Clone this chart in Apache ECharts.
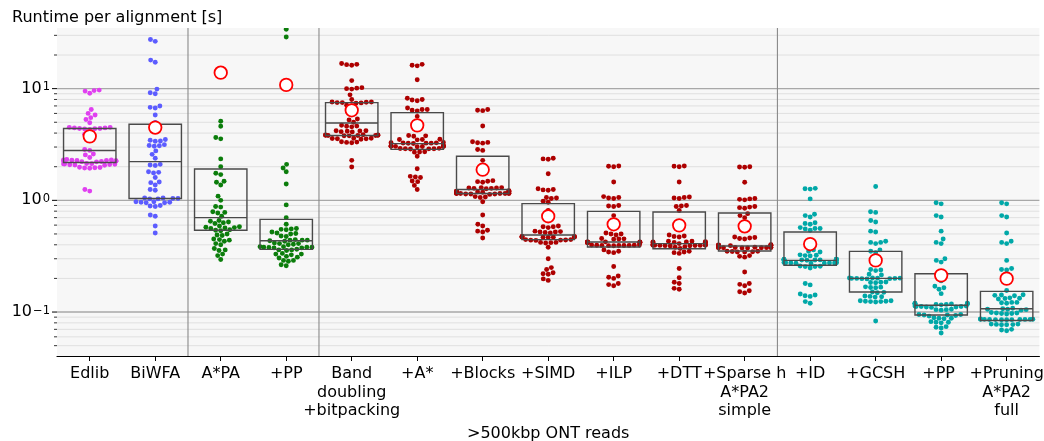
<!DOCTYPE html>
<html>
<head>
<meta charset="utf-8">
<script src="https://cdn.jsdelivr.net/npm/echarts@6/dist/echarts.min.js"></script>
<style>html,body{margin:0;padding:0;background:#fff}#c{width:1044px;height:441px}</style>
</head>
<body>
<div id="c"></div>
<script>
const categories = ['Edlib', 'BiWFA', 'A*PA', '+PP', 'Band\ndoubling\n+bitpacking', '+A*', '+Blocks', '+SIMD', '+ILP', '+DTT', '+Sparse h\nA*PA2\nsimple', '+ID', '+GCSH', '+PP ', '+Pruning\nA*PA2\nfull'];

const edlib = [9.7, 9.6, 9.5, 9.1, 6.5, 6.0, 5.8, 5.5, 5.3, 4.95, 4.5, 4.45, 4.4, 4.4, 4.35, 4.45, 4.3, 4.5, 4.38, 3.9, 3.85, 2.85, 2.8, 2.6, 2.55, 2.42, 2.3, 2.28, 2.26, 2.25, 2.24, 2.27, 2.23, 2.3, 2.22, 2.29, 2.25, 2.21, 2.32, 2.12, 2.1, 2.08, 2.13, 2.11, 2.07, 2.09, 2.14, 2.06, 1.97, 1.95, 1.98, 1.94, 1.96, 1.25, 1.21];
const biwfa = [27.5, 26.5, 18, 17.2, 9.9, 9.2, 9.0, 7.0, 6.8, 6.7, 5.8, 4.97, 3.5, 3.45, 3.4, 3.38, 3.15, 3.1, 3.05, 3.08, 2.77, 2.58, 2.38, 2.1, 2.07, 2.05, 1.8, 1.78, 1.76, 1.6, 1.46, 1.44, 1.37, 1.25, 1.23, 1.05, 1.04, 1.04, 1.03, 1.05, 1.03, 0.97, 0.96, 0.95, 0.96, 0.97, 0.95, 0.9, 0.89, 0.88, 0.74, 0.72, 0.59, 0.51];
const astarpa = [5.1, 4.6, 3.65, 3.55, 2.35, 2.0, 1.75, 1.7, 1.48, 1.45, 1.37, 1.09, 1.0, 0.88, 0.87, 0.79, 0.78, 0.77, 0.72, 0.66, 0.65, 0.64, 0.63, 0.62, 0.59, 0.58, 0.57, 0.575, 0.56, 0.565, 0.54, 0.545, 0.535, 0.5, 0.49, 0.485, 0.45, 0.44, 0.445, 0.43, 0.41, 0.40, 0.37, 0.36, 0.355, 0.33, 0.32, 0.295];
const astarpaPP = [34, 29, 2.1, 1.95, 1.8, 1.4, 0.91, 0.70, 0.61, 0.56, 0.555, 0.55, 0.545, 0.52, 0.51, 0.505, 0.5, 0.48, 0.475, 0.445, 0.44, 0.44, 0.435, 0.43, 0.44, 0.415, 0.41, 0.405, 0.41, 0.4, 0.385, 0.38, 0.38, 0.375, 0.38, 0.385, 0.375, 0.378, 0.36, 0.365, 0.355, 0.36, 0.335, 0.33, 0.325, 0.33, 0.31, 0.315, 0.305, 0.29, 0.285, 0.29, 0.265, 0.26];
const bandDoubling = [16.8, 16.5, 16.2, 16.4, 11.8, 10.2, 10.0, 9.9, 10.1, 8.8, 8.0, 7.6, 7.55, 7.5, 7.45, 7.5, 7.6, 7.4, 7.1, 7.0, 6.0, 5.35, 5.25, 5.0, 4.7, 4.6, 4.55, 4.62, 4.2, 4.15, 4.1, 4.18, 4.12, 4.2, 3.85, 3.82, 3.8, 3.83, 3.78, 3.86, 3.81, 3.79, 3.84, 3.8, 3.6, 3.55, 3.58, 3.52, 3.6, 3.56, 3.35, 3.3, 3.28, 3.32, 2.28, 1.99];
const plusAstar = [16.5, 16.2, 16.0, 12.0, 8.2, 8.0, 7.9, 7.8, 6.7, 6.5, 6.4, 6.5, 6.3, 5.65, 3.8, 3.78, 3.75, 3.52, 3.5, 3.48, 3.5, 3.28, 3.26, 3.25, 3.27, 3.24, 3.29, 3.25, 3.23, 3.06, 3.05, 3.04, 3.07, 3.03, 3.05, 3.06, 3.02, 3.08, 3.04, 2.92, 2.9, 2.89, 2.91, 2.88, 2.9, 2.72, 2.7, 2.71, 2.48, 1.92, 1.64, 1.62, 1.6, 1.49, 1.47, 1.36, 1.25];
const plusBlocks = [6.5, 6.4, 6.35, 4.63, 3.35, 3.3, 3.28, 3.25, 2.85, 2.8, 2.28, 1.5, 1.48, 1.47, 1.45, 1.3, 1.29, 1.28, 1.3, 1.27, 1.29, 1.28, 1.21, 1.2, 1.19, 1.2, 1.21, 1.19, 1.2, 1.22, 1.18, 1.16, 1.15, 1.15, 1.14, 1.16, 1.15, 1.14, 1.16, 1.15, 1.13, 1.15, 1.14, 1.07, 1.06, 1.08, 0.97, 0.74, 0.61, 0.59, 0.54, 0.53, 0.52, 0.46];
const plusSimd = [2.38, 2.35, 2.33, 1.73, 1.27, 1.25, 1.24, 1.23, 1.06, 1.05, 1.04, 0.98, 0.96, 0.81, 0.59, 0.58, 0.57, 0.58, 0.53, 0.52, 0.52, 0.51, 0.525, 0.515, 0.475, 0.47, 0.47, 0.468, 0.472, 0.465, 0.47, 0.475, 0.468, 0.47, 0.445, 0.44, 0.442, 0.438, 0.44, 0.445, 0.42, 0.415, 0.42, 0.418, 0.38, 0.30, 0.25, 0.24, 0.225, 0.22, 0.218, 0.198, 0.192];
const plusIlp = [2.03, 2.0, 2.02, 1.46, 1.08, 1.06, 1.05, 1.04, 0.9, 0.89, 0.88, 0.73, 0.51, 0.5, 0.49, 0.5, 0.455, 0.45, 0.448, 0.452, 0.425, 0.422, 0.42, 0.418, 0.424, 0.421, 0.419, 0.423, 0.42, 0.417, 0.425, 0.42, 0.398, 0.395, 0.393, 0.397, 0.394, 0.396, 0.392, 0.398, 0.395, 0.394, 0.36, 0.35, 0.345, 0.34, 0.256, 0.21, 0.205, 0.2, 0.18, 0.176, 0.172];
const plusDtt = [2.03, 2.0, 2.02, 1.46, 1.07, 1.05, 1.04, 1.06, 0.9, 0.89, 0.88, 0.81, 0.49, 0.48, 0.475, 0.47, 0.43, 0.43, 0.425, 0.42, 0.422, 0.418, 0.424, 0.42, 0.426, 0.41, 0.405, 0.4, 0.398, 0.395, 0.392, 0.397, 0.394, 0.396, 0.393, 0.399, 0.395, 0.391, 0.397, 0.385, 0.38, 0.37, 0.35, 0.345, 0.34, 0.335, 0.245, 0.203, 0.185, 0.18, 0.163, 0.16];
const plusSparse = [2.0, 1.98, 1.99, 1.45, 1.04, 1.02, 1.01, 1.03, 0.88, 0.86, 0.85, 0.87, 0.76, 0.73, 0.7, 0.47, 0.465, 0.46, 0.455, 0.45, 0.4, 0.398, 0.395, 0.397, 0.393, 0.399, 0.396, 0.394, 0.38, 0.378, 0.376, 0.379, 0.377, 0.375, 0.38, 0.376, 0.378, 0.377, 0.374, 0.379, 0.35, 0.348, 0.345, 0.347, 0.35, 0.344, 0.32, 0.315, 0.31, 0.228, 0.18, 0.177, 0.172, 0.155, 0.152, 0.148];
const plusId = [1.28, 1.27, 1.26, 1.03, 0.75, 0.73, 0.71, 0.63, 0.62, 0.61, 0.57, 0.56, 0.555, 0.56, 0.54, 0.36, 0.35, 0.345, 0.325, 0.32, 0.318, 0.322, 0.296, 0.294, 0.293, 0.295, 0.292, 0.297, 0.294, 0.291, 0.296, 0.293, 0.295, 0.292, 0.277, 0.275, 0.274, 0.276, 0.273, 0.278, 0.275, 0.274, 0.276, 0.275, 0.258, 0.256, 0.255, 0.257, 0.248, 0.18, 0.175, 0.145, 0.142, 0.14, 0.138, 0.124, 0.12];
const plusGcsh = [1.33, 0.79, 0.78, 0.66, 0.64, 0.53, 0.52, 0.43, 0.42, 0.41, 0.42, 0.36, 0.35, 0.34, 0.24, 0.235, 0.238, 0.218, 0.215, 0.202, 0.2, 0.201, 0.199, 0.2, 0.198, 0.202, 0.2, 0.199, 0.201, 0.186, 0.184, 0.185, 0.183, 0.168, 0.166, 0.167, 0.165, 0.151, 0.15, 0.149, 0.139, 0.138, 0.137, 0.136, 0.126, 0.125, 0.124, 0.126, 0.123, 0.125, 0.124, 0.083];
const plusPP2 = [0.95, 0.93, 0.73, 0.71, 0.53, 0.45, 0.42, 0.41, 0.3, 0.29, 0.28, 0.19, 0.17, 0.165, 0.16, 0.146, 0.119, 0.118, 0.12, 0.117, 0.119, 0.118, 0.116, 0.12, 0.118, 0.117, 0.112, 0.111, 0.113, 0.112, 0.11, 0.113, 0.111, 0.112, 0.105, 0.104, 0.106, 0.105, 0.095, 0.094, 0.093, 0.095, 0.094, 0.092, 0.088, 0.087, 0.089, 0.088, 0.081, 0.08, 0.082, 0.081, 0.073, 0.072, 0.074, 0.065];
const plusPruning = [0.95, 0.93, 0.73, 0.71, 0.51, 0.43, 0.42, 0.41, 0.29, 0.245, 0.24, 0.238, 0.156, 0.142, 0.141, 0.14, 0.143, 0.133, 0.132, 0.131, 0.134, 0.122, 0.121, 0.12, 0.122, 0.107, 0.106, 0.105, 0.108, 0.106, 0.104, 0.098, 0.097, 0.099, 0.098, 0.097, 0.096, 0.086, 0.0855, 0.0858, 0.0862, 0.0852, 0.0865, 0.0857, 0.086, 0.0853, 0.0859, 0.0856, 0.0861, 0.078, 0.077, 0.0775, 0.078, 0.077, 0.0772, 0.07, 0.069, 0.068];

const q1 = [2.18, 1.04, 0.54, 0.364, 3.8, 2.86, 1.15, 0.445, 0.382, 0.369, 0.352, 0.262, 0.151, 0.094, 0.084];
const medians = [2.79, 2.22, 0.70, 0.435, 4.93, 3.22, 1.25, 0.49, 0.423, 0.41, 0.39, 0.29, 0.2, 0.115, 0.107];
const q3 = [4.4, 4.8, 1.91, 0.675, 7.5, 6.1, 2.48, 0.934, 0.797, 0.786, 0.77, 0.52, 0.349, 0.22, 0.153];
const means = [3.74, 4.48, 13.9, 10.8, 6.4, 4.69, 1.88, 0.72, 0.61, 0.597, 0.585, 0.406, 0.29, 0.213, 0.199];

const majorTicks = [0.1, 1, 10];
const minorTicks = [0.05, 0.06, 0.07, 0.08, 0.09, 0.2, 0.3, 0.4, 0.5, 0.6, 0.7, 0.8, 0.9, 2, 3, 4, 5, 6, 7, 8, 9, 20, 30];
const separatorsAfter = [1, 3, 10];

const catColors = ['#e040f0', '#5c5cff', '#0b7d0b', '#0b7d0b', '#ad0000', '#ad0000', '#ad0000', '#ad0000', '#ad0000', '#ad0000', '#ad0000', '#00a8a8', '#00a8a8', '#00a8a8', '#00a8a8'];

const pointsByCat = [edlib, biwfa, astarpa, astarpaPP, bandDoubling, plusAstar, plusBlocks, plusSimd, plusIlp, plusDtt, plusSparse, plusId, plusGcsh, plusPP2, plusPruning];

const swarmData = [];
const idxInCat = [];
pointsByCat.forEach((arr, c) => arr.forEach((v, k) => { swarmData.push([c, v]); idxInCat.push(k); }));

const R_DRAW = 2.45;
const R_SWARM = 2.45;
function beeswarm(ys, cx, halfWidth) {
  const order = ys.map((_, i) => i).sort((a, b) => ys[b] - ys[a]);
  const placed = [];
  const out = new Array(ys.length);
  const d = 2 * R_SWARM;
  for (const i of order) {
    const y = ys[i];
    const neigh = [];
    for (let k = placed.length - 1; k >= 0; k--) {
      if (Math.abs(placed[k].y - y) < d) neigh.push(placed[k]); else break;
    }
    const cands = [cx];
    let leftFirst = true;
    for (const p of neigh) {
      const dy = y - p.y;
      const dx = Math.sqrt(Math.max(d * d - dy * dy, 0)) * 1.05;
      if (leftFirst) cands.push(p.x - dx, p.x + dx); else cands.push(p.x + dx, p.x - dx);
      leftFirst = !leftFirst;
    }
    const sorted = cands.map((x, j) => [x, j]).sort((a, b) => (Math.abs(a[0] - cx) - Math.abs(b[0] - cx)) || (a[1] - b[1]));
    let chosen = cx;
    for (const [c] of sorted) {
      if (neigh.every(p => (p.x - c) * (p.x - c) + (p.y - y) * (p.y - y) >= d * d - 1e-6)) { chosen = c; break; }
    }
    placed.push({ x: chosen, y });
    placed.sort((a, b) => b.y - a.y);
    out[i] = chosen;
  }
  // gutters: points that do not fit are pinned to the edge of the swarm width
  return out.map(x => Math.min(cx + halfWidth, Math.max(cx - halfWidth, x)));
}
const layoutCache = {};
function getLayout(c, api, key) {
  const k = c + '|' + key;
  if (!layoutCache[k]) {
    const arr = pointsByCat[c];
    const ys = arr.map(v => api.coord([c, v])[1]);
    const cx = api.coord([c, arr[0]])[0];
    const band = Math.abs(api.coord([1, 1])[0] - api.coord([0, 1])[0]);
    layoutCache[k] = { xs: beeswarm(ys, cx, band * 0.4), ys };
  }
  return layoutCache[k];
}

const gridItems = majorTicks.map(v => [v, 1]).concat(minorTicks.map(v => [v, 0]));
const FONT = 'DejaVu Sans';
const FS = 16;

const chart = echarts.init(document.getElementById('c'), null, { renderer: 'canvas' });
chart.setOption({
  animation: false,
  title: {
    text: 'Runtime per alignment [s]', left: 12, top: 10, padding: 0,
    textStyle: { fontFamily: FONT, fontSize: FS, fontWeight: 'normal', color: '#000' }
  },
  grid: { left: 57, right: 4.6, top: 28, bottom: 85, show: true, backgroundColor: '#f7f7f7', borderWidth: 0, outerBoundsMode: 'none', containLabel: false },
  xAxis: {
    type: 'category', data: categories,
    axisLine: { lineStyle: { color: '#000', width: 1.2 } },
    axisTick: { show: true, alignWithLabel: true, length: 5, lineStyle: { color: '#000', width: 1 } },
    axisLabel: { interval: 0, fontFamily: FONT, fontSize: FS, color: '#000', lineHeight: 18.5, margin: 9 },
    splitLine: { show: false },
    name: '>500kbp ONT reads', nameLocation: 'middle', nameGap: 69,
    nameTextStyle: { fontFamily: FONT, fontSize: FS, color: '#000' }
  },
  yAxis: {
    type: 'log', logBase: 10, min: 0.0404, max: 34.9,
    axisLine: { show: false }, axisTick: { show: false }, splitLine: { show: false },
    axisLabel: {
      showMinLabel: false, showMaxLabel: false, margin: 7,
      formatter: v => { const e = Math.round(Math.log10(v)); return '{b|10}{s|' + (e < 0 ? '\u2212' + (-e) : e) + '}'; },
      rich: {
        b: { fontFamily: FONT, fontSize: FS, color: '#000', lineHeight: 19 },
        s: { fontFamily: FONT, fontSize: 11.5, color: '#000', verticalAlign: 'top', lineHeight: 11, padding: [2, 0, 0, 1] }
      }
    }
  },
  series: [
    {
      type: 'custom', name: 'grid', z: 0, silent: true, clip: false,
      data: gridItems,
      encode: { y: 0 },
      renderItem: (params, api) => {
        const cs = params.coordSys;
        const v = api.value(0), major = api.value(1) === 1;
        const y = api.coord([0, v])[1];
        return {
          type: 'group', children: [
            { type: 'line', shape: { x1: cs.x, y1: y, x2: cs.x + cs.width, y2: y }, style: { stroke: major ? '#a8a8a8' : '#e0e0e0', lineWidth: major ? 1.4 : 1 } },
            { type: 'line', shape: { x1: cs.x - (major ? 5 : 3), y1: y, x2: cs.x, y2: y }, style: { stroke: '#000', lineWidth: major ? 1 : 0.8 } }
          ]
        };
      }
    },
    {
      type: 'custom', name: 'separators', z: 1, silent: true,
      data: separatorsAfter.map(i => [i]),
      renderItem: (params, api) => {
        const cs = params.coordSys;
        const i = api.value(0);
        const x = (api.coord([i, 1])[0] + api.coord([i + 1, 1])[0]) / 2;
        return { type: 'line', shape: { x1: x, y1: cs.y, x2: x, y2: cs.y + cs.height }, style: { stroke: '#8a8a8a', lineWidth: 1.1 } };
      }
    },
    {
      type: 'custom', name: 'swarm', z: 2, silent: true, clip: true,
      data: swarmData,
      encode: { x: 0, y: 1 },
      renderItem: (params, api) => {
        const c = api.value(0);
        const cs = params.coordSys;
        const L = getLayout(c, api, cs.y + '_' + cs.height + '_' + cs.width);
        const k = idxInCat[params.dataIndex];
        return { type: 'circle', shape: { cx: L.xs[k], cy: L.ys[k], r: R_DRAW }, style: { fill: catColors[c] } };
      }
    },
    {
      type: 'boxplot', name: 'box', z: 3, silent: true,
      boxWidth: [52.4, 52.4],
      data: categories.map((_, i) => [q1[i], q1[i], medians[i], q3[i], q3[i]]),
      itemStyle: { color: 'rgba(0,0,0,0)', borderColor: '#4a4a4a', borderWidth: 1.4 },
      emphasis: { disabled: true }
    },
    {
      type: 'scatter', name: 'mean', z: 4, silent: true,
      data: means.map((m, i) => [i, m]),
      symbol: 'circle', symbolSize: 12.5,
      itemStyle: { color: '#ffffff', borderColor: '#ff0000', borderWidth: 1.8, opacity: 1 }
    }
  ]
});
</script>
</body>
</html>
